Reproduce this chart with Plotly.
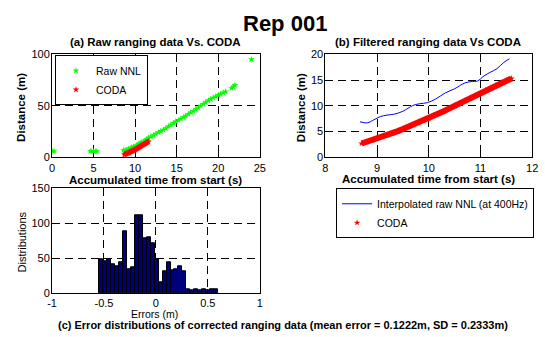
import plotly.graph_objects as go

# ---------------- data ----------------
# (a) raw NNL ranging data
raw_t = [0.1, 0.25, 4.6, 4.8, 5.0, 5.2, 5.4,
         8.6, 8.8, 9.0, 9.2, 9.4, 9.6, 9.8, 10.0, 10.2, 10.4, 10.6, 10.8, 11.0,
         11.2, 11.4, 11.6, 11.9, 12.2, 12.5, 12.8, 13.1, 13.4, 13.7, 14.0, 14.3,
         14.6, 14.9, 15.2, 15.5, 15.8, 16.1, 16.4, 16.7, 17.0, 17.3, 17.6, 17.9,
         18.2, 18.5, 18.8, 19.1, 19.4, 19.7, 20.0, 20.3, 20.6, 20.9, 21.6, 21.8,
         22.0, 24.0]
raw_d = [6.0, 6.0, 6.0, 6.0, 6.0, 6.0, 6.0,
         6.9, 6.8, 7.3, 8.2, 8.6, 9.5, 10.4, 10.6, 11.8, 12.9, 13.9, 14.7, 15.2,
         16.5, 17.6, 19.0, 20.2, 21.5, 22.8, 24.2, 25.5, 26.8, 28.2, 29.8, 31.5,
         33.2, 34.8, 36.0, 37.4, 38.9, 40.3, 42.0, 43.5, 45.0, 46.6, 48.2, 50.0,
         51.8, 53.4, 55.0, 56.5, 57.8, 59.0, 60.4, 61.5, 62.8, 63.8, 67.0, 68.5,
         70.0, 95.0]

# CODA reference distance
coda_t = [8.7, 8.8, 8.9, 9.0, 9.1, 9.2, 9.3, 9.4, 9.5, 9.6, 9.7, 9.8, 9.9, 10.0,
          10.1, 10.2, 10.3, 10.4, 10.5, 10.6, 10.7, 10.8, 10.9, 11.0, 11.1, 11.2,
          11.3, 11.4, 11.5, 11.6]
coda_d = [2.7, 3.0, 3.3, 3.7, 4.0, 4.3, 4.7, 5.1, 5.5, 5.9, 6.3, 6.7, 7.1, 7.6,
          8.1, 8.6, 9.0, 9.5, 10.0, 10.5, 11.0, 11.5, 12.0, 12.5, 13.0, 13.5,
          14.0, 14.5, 14.9, 15.3]

# (b) interpolated raw NNL
interp_t = [8.67, 8.81, 8.94, 9.06, 9.19, 9.34, 9.50, 9.69, 9.82, 9.97, 10.13,
            10.32, 10.50, 10.69, 10.82, 10.94, 11.07, 11.19, 11.32, 11.45, 11.56]
interp_d = [6.9, 6.7, 7.3, 7.9, 8.2, 8.4, 8.95, 10.05, 10.4, 10.6, 11.3,
            12.5, 13.3, 14.4, 14.7, 14.8, 15.8, 16.5, 17.2, 18.4, 19.1]

# (c) error histogram
err_bin_start = -0.543
err_bin_width = 0.038
err_counts = [48, 46, 48, 42, 39, 44, 89, 35, 37, 112, 111, 78, 80, 72, 48,
              16, 31, 44, 33, 35, 38, 31, 6, 5, 6, 5, 6, 5, 6, 6]
err_centers = [err_bin_start + err_bin_width * (i + 0.5) for i in range(len(err_counts))]

W, H = 545, 337
FONT = "Liberation Sans, Arial, sans-serif"
GREEN = "#00FF00"
RED = "#FF0000"
BLUE = "#0000FF"
NAVY = "#00007F"

def px_x(p):
    return p / W

def px_y(p):
    return 1 - p / H

fig = go.Figure()

# (a)
fig.add_trace(go.Scatter(x=raw_t, y=raw_d, mode="markers", name="Raw NNL",
                         marker=dict(symbol="star", size=5, color=GREEN),
                         xaxis="x", yaxis="y", legend="legend"))
fig.add_trace(go.Scatter(x=coda_t, y=coda_d, mode="lines", showlegend=False,
                         line=dict(color=RED, width=5), xaxis="x", yaxis="y"))
fig.add_trace(go.Scatter(x=coda_t, y=coda_d, mode="markers", name="CODA",
                         marker=dict(symbol="star", size=5, color=RED),
                         xaxis="x", yaxis="y", legend="legend"))

# (b)
fig.add_trace(go.Scatter(x=interp_t, y=interp_d, mode="lines",
                         name="Interpolated raw NNL (at 400Hz)",
                         line=dict(color=BLUE, width=1, shape="spline"),
                         xaxis="x2", yaxis="y2", legend="legend2"))
fig.add_trace(go.Scatter(x=coda_t, y=coda_d, mode="lines", showlegend=False,
                         line=dict(color=RED, width=6), xaxis="x2", yaxis="y2"))
fig.add_trace(go.Scatter(x=coda_t, y=coda_d, mode="markers", name="CODA",
                         marker=dict(symbol="star", size=5, color=RED),
                         xaxis="x2", yaxis="y2", legend="legend2"))

# (c)
fig.add_trace(go.Bar(x=err_centers, y=err_counts, width=err_bin_width,
                     marker=dict(color=NAVY, line=dict(color="black", width=1)),
                     showlegend=False, xaxis="x3", yaxis="y3"))

axis_common = dict(showline=True, mirror=True, linecolor="black", linewidth=1,
                   ticks="inside", ticklen=4, tickcolor="black", zeroline=False,
                   showgrid=True, gridcolor="black", gridwidth=1,
                   griddash="8px,5px",
                   tickfont=dict(family=FONT, size=11, color="black"))
xcommon = dict(ticklabelstandoff=0, **axis_common)
x3common = dict(ticklabelstandoff=-1, **axis_common)
ycommon = dict(ticklabelstandoff=-1, **axis_common)

fig.update_layout(
    width=W, height=H,
    margin=dict(l=0, r=0, t=0, b=0),
    paper_bgcolor="white", plot_bgcolor="white",
    font=dict(family=FONT, size=11, color="black"),
    bargap=0,
    xaxis=dict(domain=[px_x(48), px_x(260)], range=[0, 25], anchor="y",
               tickvals=[0, 5, 10, 15, 20, 25], **xcommon),
    yaxis=dict(domain=[px_y(157), px_y(50)], range=[0, 100], anchor="x",
               tickvals=[0, 50, 100], **ycommon),
    xaxis2=dict(domain=[px_x(327), px_x(538)], range=[8, 12], anchor="y2",
                tickvals=[8, 9, 10, 11, 12], **xcommon),
    yaxis2=dict(domain=[px_y(157), px_y(50)], range=[0, 20], anchor="x2",
                tickvals=[0, 5, 10, 15, 20], **ycommon),
    xaxis3=dict(domain=[px_x(48), px_x(260)], range=[-1, 1], anchor="y3",
                tickvals=[-1, -0.5, 0, 0.5, 1], ticktext=["-1", "-0.5", "0", "0.5", "1"],
                **x3common),
    yaxis3=dict(domain=[px_y(298), px_y(189)], range=[0, 150], anchor="x3",
                tickvals=[0, 50, 100, 150], **ycommon),
    legend=dict(x=px_x(51), y=px_y(51), xanchor="left", yanchor="top",
                bgcolor="white", bordercolor="black", borderwidth=1,
                font=dict(family=FONT, size=10.5), tracegroupgap=0,
                itemwidth=30),
    legend2=dict(x=px_x(540), y=px_y(189), xanchor="right", yanchor="top",
                 bgcolor="white", bordercolor="black", borderwidth=1,
                 font=dict(family=FONT, size=10.5), tracegroupgap=0,
                 itemwidth=30),
)

def ann(text, x, y, size=11, bold=True, angle=0):
    fig.add_annotation(text=f"<b>{text}</b>" if bold else text,
                       x=px_x(x), y=px_y(y), xref="paper", yref="paper",
                       xanchor="center", yanchor="middle", showarrow=False,
                       textangle=angle,
                       font=dict(family=FONT, size=size, color="black"))

ann("Rep 001", 286, 18, size=22)
ann("(a) Raw ranging data Vs. CODA", 154, 37, size=11.5)
ann("(b) Filtered ranging data Vs CODA", 432, 37, size=11.5)
ann("Accumulated time from start (s)", 154, 180, size=11.5)
ann("Accumulated time from start (s)", 432, 179, size=11.5)
ann("Distance (m)", 17, 105, size=11.5, angle=-90)
ann("Distance (m)", 302, 105, size=11.5, angle=-90)
ann("Distributions", 17.5, 245, bold=False, angle=-90)
ann("Errors (m)", 153, 319, size=10.5, bold=False)
ann("(c) Error distributions of corrected ranging data (mean error = 0.1222m, SD = 0.2333m)",
    284, 331)

fig.write_html("out.html")
